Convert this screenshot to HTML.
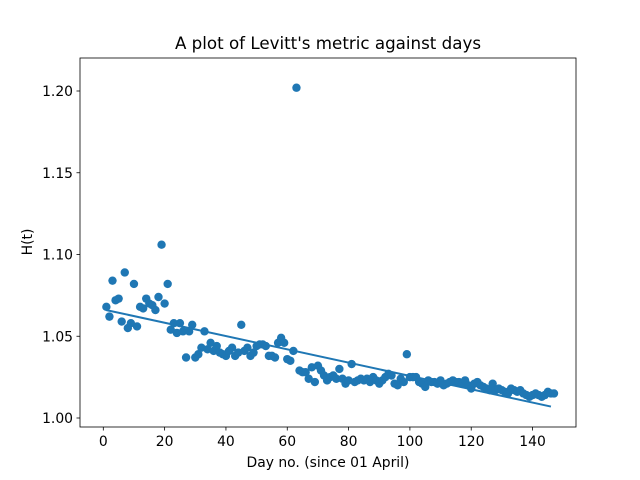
<!DOCTYPE html>
<html><head><meta charset="utf-8"><style>body{margin:0;background:#fff}svg{display:block;font-family:"DejaVu Sans","Liberation Sans",sans-serif}</style></head>
<body>
<svg id="chart" width="640" height="480" xmlns="http://www.w3.org/2000/svg">
<rect width="640" height="480" fill="#fff"/>
<text x="328" y="49" font-size="16.7" text-anchor="middle">A plot of Levitt's metric against days</text>
<g id="plot"></g>
<rect x="80" y="58" width="496" height="369" fill="none" stroke="#000" stroke-width="0.8"/>
<text x="328" y="467" font-size="13.9" text-anchor="middle">Day no. (since 01 April)</text>
<text transform="translate(32,242) rotate(-90)" font-size="13.9" text-anchor="middle">H(t)</text>
</svg>
<script>
const hValues=[1.068,1.062,1.084,1.072,1.073,1.059,1.089,1.055,1.058,1.082,1.056,1.068,1.067,1.073,1.070,1.069,1.066,1.074,1.106,1.070,1.082,1.054,1.058,1.052,1.058,1.053,1.037,1.053,1.057,1.037,1.039,1.043,1.053,1.042,1.046,1.041,1.044,1.040,1.039,1.038,1.041,1.043,1.038,1.040,1.057,1.041,1.043,1.038,1.040,1.044,1.045,1.045,1.044,1.038,1.038,1.037,1.046,1.049,1.046,1.036,1.035,1.041,1.202,1.029,1.028,1.028,1.024,1.031,1.022,1.032,1.029,1.026,1.023,1.025,1.026,1.024,1.030,1.024,1.021,1.023,1.033,1.022,1.023,1.024,1.023,1.024,1.022,1.025,1.023,1.021,1.023,1.025,1.027,1.026,1.021,1.020,1.024,1.022,1.039,1.025,1.025,1.025,1.022,1.021,1.019,1.023,1.022,1.022,1.021,1.023,1.020,1.021,1.022,1.023,1.022,1.022,1.021,1.023,1.020,1.018,1.021,1.022,1.020,1.019,1.018,1.017,1.021,1.017,1.018,1.017,1.016,1.015,1.018,1.017,1.016,1.017,1.015,1.014,1.013,1.014,1.015,1.014,1.013,1.014,1.016,1.015,1.015];
const fitStart=[1,1.066];
const fitEnd=[146,1.007];
const xTicks=[0,20,40,60,80,100,120,140];
const yTicks=[1.00,1.05,1.10,1.15,1.20];
const X=d=>103.3+(d)*3.066;
const Y=v=>418-(v-1)*1635;
const NS="http://www.w3.org/2000/svg";
const g=document.getElementById('plot');
function mk(t,a){const e=document.createElementNS(NS,t);for(const k in a)e.setAttribute(k,a[k]);g.appendChild(e);return e;}
xTicks.forEach(t=>{
 const l=mk('line',{x1:X(t),x2:X(t),y1:427,y2:430.5,stroke:'#000','stroke-width':0.8});
 
 
 const tx=mk('text',{x:X(t),y:446,'font-size':13.9,'text-anchor':'middle'});tx.textContent=t;
 
 
});
yTicks.forEach(t=>{
 const l=mk('line',{x1:76.5,x2:80,y1:Y(t),y2:Y(t),stroke:'#000','stroke-width':0.8});
 
 
 const tx=mk('text',{x:73,y:Y(t)+5,'font-size':13.9,'text-anchor':'end'});tx.textContent=t.toFixed(2);
 
 
});
hValues.forEach((v,i)=>{
 const c=mk('circle',{cx:X(i+1),cy:Y(v),r:4.2,fill:'#1f77b4'});
 
 
});
const fl=mk('line',{x1:X(fitStart[0]),y1:Y(fitStart[1]),x2:X(fitEnd[0]),y2:Y(fitEnd[1]),stroke:'#1f77b4','stroke-width':2});


</script>
</body></html>
